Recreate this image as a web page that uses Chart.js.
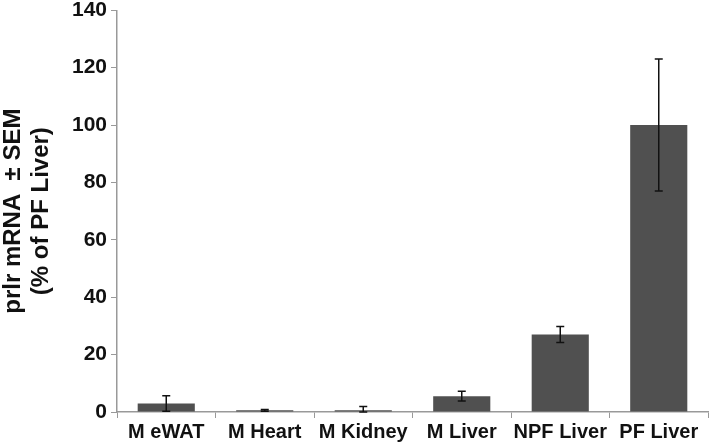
<!DOCTYPE html>
<html>
<head>
<meta charset="utf-8">
<script src="https://cdn.jsdelivr.net/npm/chart.js@4"></script>
<style>
  html, body { margin: 0; padding: 0; background: #fff; }
  #wrap { width: 709px; height: 446px; }
</style>
</head>
<body>
<div id="wrap"><canvas id="myChart" width="709" height="446"></canvas></div>
<script>
const categories = ["M eWAT", "M Heart", "M Kidney", "M Liver", "NPF Liver", "PF Liver"]
const values = [3, 0.6, 0.6, 5.5, 27, 100]
const sem = [2.7, 0.3, 1.3, 1.7, 2.8, 23]
const yTicks = [0, 20, 40, 60, 80, 100, 120, 140]

const FONT = "'Liberation Sans', Arial, sans-serif"

// draws the ± SEM whiskers using the chart's own scales
const errorBars = {
  id: "errorBars",
  afterDatasetsDraw(chart) {
    const ctx = chart.ctx
    const x = chart.scales.x
    const y = chart.scales.y
    ctx.save()
    ctx.strokeStyle = "#111"
    ctx.lineWidth = 1.5
    values.forEach((v, i) => {
      const cx = x.getPixelForValue(i)
      const top = y.getPixelForValue(v + sem[i])
      const bot = y.getPixelForValue(Math.max(0, v - sem[i]))
      ctx.beginPath()
      ctx.moveTo(cx, top); ctx.lineTo(cx, bot)
      ctx.moveTo(cx - 4, top); ctx.lineTo(cx + 4, top)
      ctx.moveTo(cx - 4, bot); ctx.lineTo(cx + 4, bot)
      ctx.stroke()
    })
    ctx.restore()
  }
}

const data = {
  labels: categories,
  datasets: [{
    data: values,
    backgroundColor: "#505050",
    borderWidth: 0,
    barPercentage: 0.58,
    categoryPercentage: 1.0
  }]
}

const config = {
  type: "bar",
  data: data,
  options: {
    responsive: false,
    animation: false,
    layout: { padding: { top: 0, right: 1, left: 0, bottom: 0 } },
    plugins: { legend: { display: false }, tooltip: { enabled: false } },
    scales: {
      x: {
        grid: { display: true, drawOnChartArea: false, tickLength: 6, color: "#999", offset: true },
        border: { color: "#999", width: 1.5 },
        ticks: { color: "#111", font: { family: FONT, size: 20, weight: "bold" }, maxRotation: 0, padding: 2 }
      },
      y: {
        min: 0, max: 140,
        afterBuildTicks(axis) { axis.ticks = yTicks.map(v => ({ value: v })) },
        afterFit(axis) { axis.width = 117 },
        grid: { display: true, drawOnChartArea: false, tickLength: 6, color: "#999" },
        border: { color: "#999", width: 1.5 },
        ticks: { color: "#111", font: { family: FONT, size: 21, weight: "bold", lineHeight: 0.6 }, padding: 4 },
        title: {
          display: true,
          text: ["prlr mRNA  ± SEM", "(% of PF Liver)"],
          color: "#111",
          font: { family: FONT, size: 24, weight: "bold", lineHeight: 1.15 },
          padding: { top: 0, bottom: 4 }
        }
      }
    }
  },
  plugins: [errorBars]
}

const salesChart = new Chart(document.getElementById("myChart"), config)
</script>
</body>
</html>
